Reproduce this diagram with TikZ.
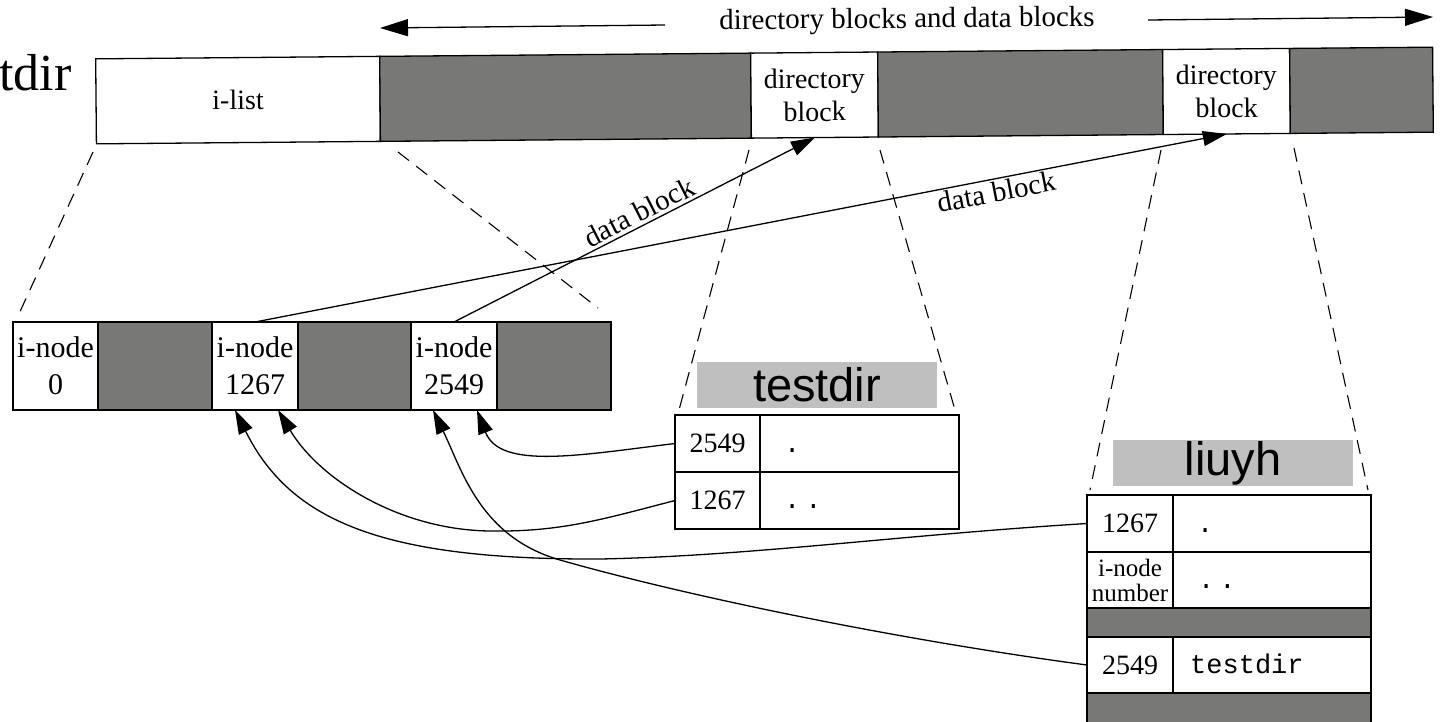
\documentclass[tikz,border=0pt]{standalone}
\usepackage{fontspec}
\setmainfont{Liberation Serif}
\setmonofont{Liberation Mono}
\newfontfamily\labelsans{Liberation Sans}
\newfontfamily\timesf{Liberation Serif}
\usetikzlibrary{arrows.meta}
\definecolor{blockgray}{RGB}{120,120,118}
\definecolor{labelgray}{RGB}{191,191,191}
\begin{document}
\begin{tikzpicture}[x=1pt,y=-1pt,
  cell/.style={draw, line width=1.3pt, inner sep=0pt, outer sep=0pt, align=center, font=\fontsize{28}{33}\selectfont},
  wcell/.style={cell, fill=white},
  gcell/.style={cell, fill=blockgray},
  conn/.style={line width=1.3pt},
  arr/.style={conn, -{Triangle[length=24pt,width=15pt]}},
  toparr/.style={conn, -{Triangle[length=28pt,width=17pt]}},
  guide/.style={line width=1.1pt, dash pattern=on 14pt off 9pt},
  tag/.style={fill=labelgray, inner sep=0pt, minimum width=240pt, minimum height=46pt, font=\labelsans\fontsize{47}{50}\selectfont},
  txt/.style={inner sep=0pt, font=\fontsize{29}{33}\selectfont},
  mono/.style={inner sep=0pt, anchor=base west, font=\ttfamily\fontsize{27}{33}\selectfont},
  inode/.style={wcell, minimum height=88pt, font=\fontsize{30}{37}\selectfont}
]
\useasboundingbox (0,0) rectangle (1440,721);
\clip (0,0) rectangle (1440,721);

% cut-off title
\node[inner sep=0pt, anchor=base west, font=\timesf\fontsize{52}{60}\selectfont] (title) at (-1,90) {tdir};

% top bar
\begin{scope}[rotate around={0.5:(765,95.5)}, transform shape]
\node[wcell, minimum width=284pt, minimum height=85pt] (ilist) at (238,95.5) {i-list};
\node[gcell, minimum width=371pt, minimum height=85pt] (g1) at (565.5,95.5) {};
\node[wcell, minimum width=127pt, minimum height=85pt] (dir1) at (814.5,95.5) {directory\\block};
\node[gcell, minimum width=285pt, minimum height=85pt] (g2) at (1020.5,95.5) {};
\node[wcell, minimum width=127pt, minimum height=85pt] (dir2) at (1226.5,95.5) {directory\\block};
\node[gcell, minimum width=143pt, minimum height=85pt] (g3) at (1361.5,95.5) {};
\end{scope}

% span arrow
\node[txt, rotate=0.5] (span) at (907,21) {directory blocks and data blocks};
\coordinate (spanLs) at (665,25);
\coordinate (spanL) at (380,28);
\coordinate (spanRs) at (1148,20);
\coordinate (spanR) at (1433,17);
\draw[toparr] (spanLs) -- (spanL);
\draw[toparr] (spanRs) -- (spanR);

% i-node row
\node[inode, minimum width=85pt] (n0) at (55.5,366) {i-node\\0};
\node[gcell, minimum width=114pt, minimum height=88pt] (ng1) at (155,366) {};
\node[inode, minimum width=86pt] (n1267) at (255,366) {i-node\\1267};
\node[gcell, minimum width=113pt, minimum height=88pt] (ng2) at (354.5,366) {};
\node[inode, minimum width=86pt] (n2549) at (454,366) {i-node\\2549};
\node[gcell, minimum width=114pt, minimum height=88pt] (ng3) at (554,366) {};

% testdir table
\node[tag] (tdtag) at (817,384.5) {testdir};
\node[wcell, minimum width=85pt, minimum height=57pt] (td1a) at (717.5,443.5) {2549};
\node[wcell, minimum width=199pt, minimum height=57pt] (td1b) at (859.5,443.5) {};
\node[wcell, minimum width=85pt, minimum height=57pt] (td2a) at (717.5,500.5) {1267};
\node[wcell, minimum width=199pt, minimum height=57pt] (td2b) at (859.5,500.5) {};
\node[mono] (td1t) at (784,452) {.};
\node[mono] (td2t) at (784,508) {.\kern5pt.};

% liuyh table
\node[tag] (lutag) at (1233,463) {liuyh};
\node[wcell, minimum width=86pt, minimum height=57pt] (lu1a) at (1130,523.5) {1267};
\node[wcell, minimum width=198pt, minimum height=57pt] (lu1b) at (1272,523.5) {};
\node[wcell, minimum width=86pt, minimum height=56pt, font=\fontsize{25}{25}\selectfont] (lu2a) at (1130,580) {i-node\\number};
\node[wcell, minimum width=198pt, minimum height=56pt] (lu2b) at (1272,580) {};
\node[gcell, minimum width=284pt, minimum height=29pt] (lug1) at (1229,622.5) {};
\node[wcell, minimum width=86pt, minimum height=56pt] (lu3a) at (1130,665) {2549};
\node[wcell, minimum width=198pt, minimum height=56pt] (lu3b) at (1272,665) {};
\node[gcell, minimum width=284pt, minimum height=50pt] (lug2) at (1229,718) {};
\node[mono] (lu1t) at (1197,532) {.};
\node[mono] (lu2t) at (1198,588) {.\kern5pt.};
\node[mono] (lu3t) at (1190,673) {testdir};

% dashed guides
\coordinate (gA1) at (93,152);   \coordinate (gA2) at (18,316);
\coordinate (gB1) at (398,152);  \coordinate (gB2) at (598,308);
\coordinate (gC1) at (749,150);  \coordinate (gC2) at (679,410);
\coordinate (gD1) at (880,150);  \coordinate (gD2) at (955,410);
\coordinate (gE1) at (1161,150); \coordinate (gE2) at (1090,490);
\coordinate (gF1) at (1294,148); \coordinate (gF2) at (1368,490);
\draw[guide] (gA1) -- (gA2);
\draw[guide] (gB1) -- (gB2);
\draw[guide] (gC1) -- (gC2);
\draw[guide] (gD1) -- (gD2);
\draw[guide] (gE1) -- (gE2);
\draw[guide] (gF1) -- (gF2);

% data block arrows
\draw[arr] (n2549.north) -- (dir1.south) node[pos=0.53, sloped, above=3pt, txt] (lblA) {data block};
\draw[arr] (n1267.north) -- (dir2.south) node[pos=0.76, sloped, below=2pt, txt] (lblB) {data block};

% entry arrows
\draw[arr] (td1a.west) .. controls (580,455) and (500,470) .. ([xshift=23pt]n2549.south);
\draw[arr] (td2a.west) .. controls (600,520) and (560,532) .. (490,531) .. controls (400,530) and (320,480) .. ([xshift=23pt]n1267.south);
\draw[arr] (lu1a.west) .. controls (900,535) and (750,556) .. (600,559) .. controls (380,560) and (290,520) .. ([xshift=-20pt]n1267.south);
\draw[arr] (lu3a.west) .. controls (900,640) and (690,597) .. (560,560) .. controls (480,537) and (462,470) .. ([xshift=-21pt]n2549.south);
\end{tikzpicture}
\end{document}
